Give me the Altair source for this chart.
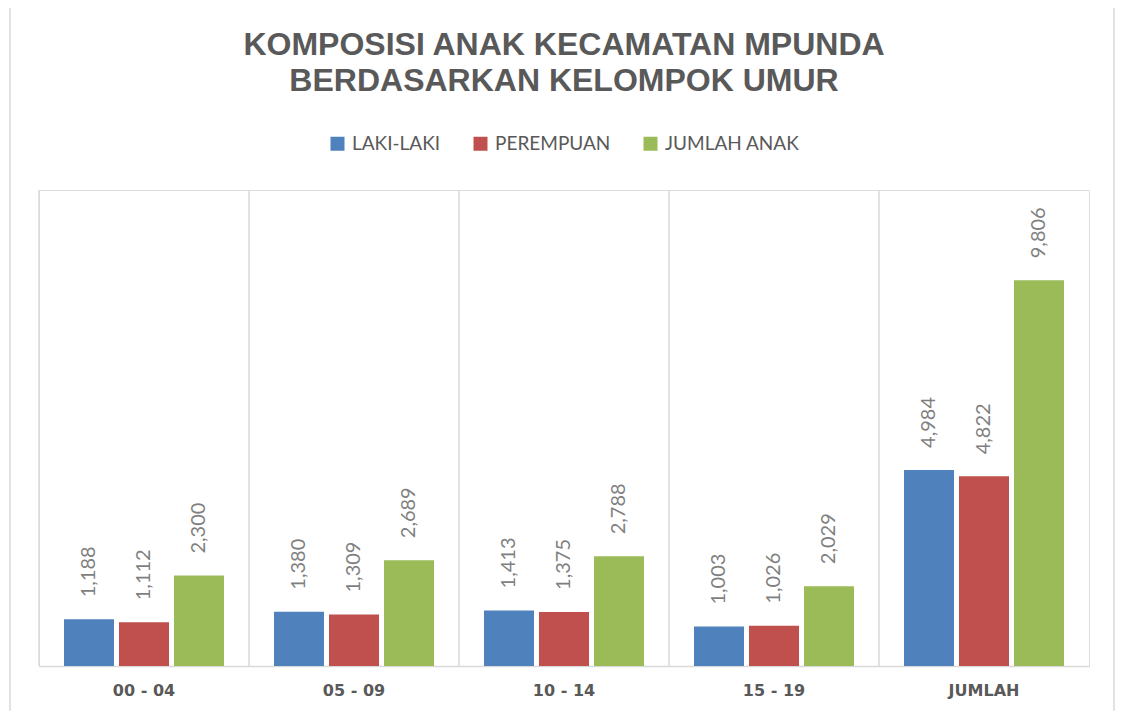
import altair as alt
import pandas as pd

categories = ["00 - 04", "05 - 09", "10 - 14", "15 - 19", "JUMLAH"]
series = ["LAKI-LAKI", "PEREMPUAN", "JUMLAH ANAK"]
laki = [1188, 1380, 1413, 1003, 4984]
perempuan = [1112, 1309, 1375, 1026, 4822]
jumlah = [2300, 2689, 2788, 2029, 9806]
colors = ["#4f81bd", "#c0504d", "#9bbb59"]
title_lines = ["KOMPOSISI ANAK KECAMATAN MPUNDA", "BERDASARKAN KELOMPOK UMUR"]

rows = []
for i, c in enumerate(categories):
    for s, vals in zip(series, [laki, perempuan, jumlah]):
        rows.append({"kelompok": c, "jenis": s, "nilai": vals[i]})
df = pd.DataFrame(rows)
cat_df = pd.DataFrame({"kelompok": categories})
frame_df = pd.DataFrame({"frame": [1]})

W, H = 1050, 476

xscale = alt.Scale(domain=categories, paddingInner=0, paddingOuter=0)
xo = alt.XOffset("jenis:N", sort=series,
                 scale=alt.Scale(domain=series, paddingInner=0.0909, paddingOuter=0.4545))
yscale = alt.Scale(domain=[0, 12100], nice=False)

x_axis = alt.Axis(title=None, labelAngle=0, ticks=False, grid=False,
                  domainColor="#d9d9d9", domainWidth=1.5,
                  labelFont="DejaVu Sans", labelFontWeight="bold", labelFontSize=16,
                  labelColor="#595959", labelPadding=16)

# outer chart frame (decoration)
frame = alt.Chart(frame_df).mark_rect(filled=False, stroke="#d9d9d9", strokeWidth=1.5).encode(
    x=alt.value(-29), x2=alt.value(1075), y=alt.value(-184), y2=alt.value(530),
)

bars = alt.Chart(df).mark_bar().encode(
    x=alt.X("kelompok:N", sort=categories, scale=xscale, axis=x_axis),
    xOffset=xo,
    y=alt.Y("nilai:Q", scale=yscale,
            axis=alt.Axis(orient="right", labels=False, ticks=False, grid=False,
                          domain=True, domainColor="#d9d9d9", domainWidth=1.5, title=None)),
    color=alt.Color("jenis:N", sort=series,
                    scale=alt.Scale(domain=series, range=colors),
                    legend=alt.Legend(title=None, orient="none", direction="horizontal",
                                      legendX=289, legendY=-56, padding=0,
                                      symbolType="square", symbolSize=196,
                                      symbolStrokeWidth=0, columnPadding=30,
                                      labelFont="Lato", labelFontSize=19,
                                      labelColor="#595959", labelOffset=5)),
)

grid = alt.Chart(cat_df).mark_rule(color="#d9d9d9", strokeWidth=1.5).encode(
    x=alt.X("kelompok:N", sort=categories, scale=xscale, bandPosition=0, axis=None),
)

labels = alt.Chart(df).mark_text(angle=270, align="left", baseline="middle", dx=22,
                                 font="Lato", fontSize=20, color="#7f7f7f").encode(
    x=alt.X("kelompok:N", sort=categories, scale=xscale, axis=None),
    xOffset=xo,
    y=alt.Y("nilai:Q", scale=yscale, axis=None),
    text=alt.Text("nilai:Q", format=","),
)

chart = alt.layer(frame, bars, grid, labels).resolve_axis(x="independent").properties(
    width=W, height=H,
    title=alt.TitleParams(text=title_lines, font="Liberation Sans", fontSize=32,
                          fontWeight="bold", color="#595959", anchor="middle",
                          lineHeight=36.5, offset=-93),
    autosize=alt.AutoSizeParams(type="none"),
    padding={"left": 31, "right": 26, "top": 182, "bottom": 45},
).configure_view(stroke=None).configure(background="white")

chart.save("out.html", embed_options={"renderer": "svg", "actions": False})
